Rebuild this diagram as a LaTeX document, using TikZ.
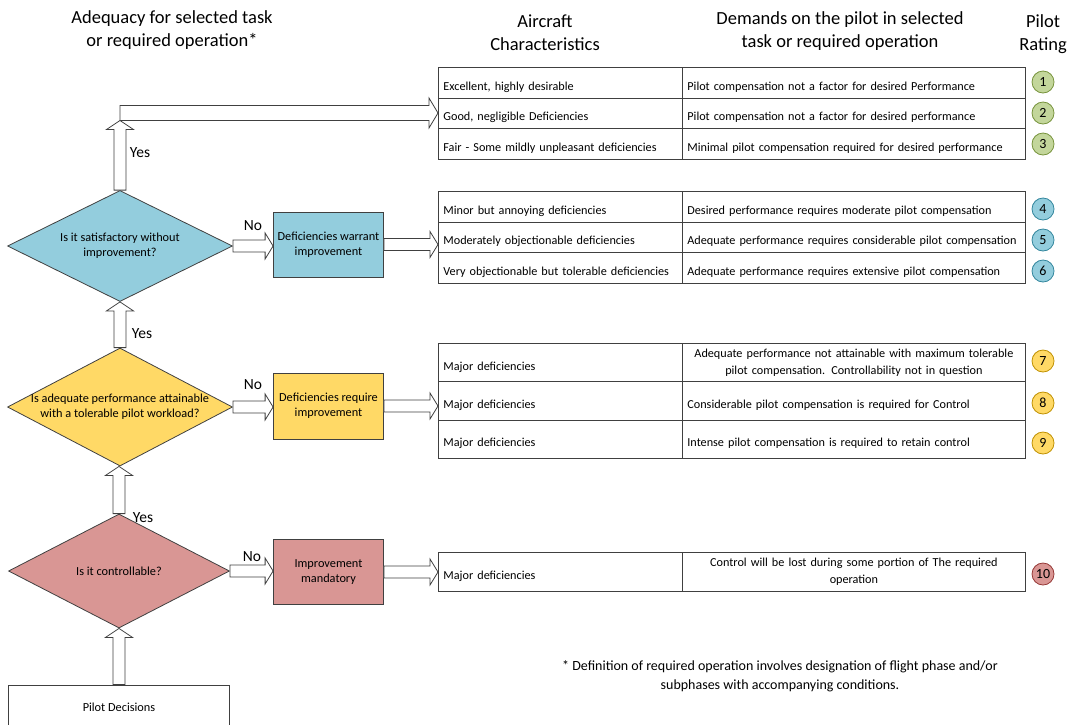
\documentclass[tikz,border=0pt]{standalone}
\usepackage{fontspec}
\setmainfont{Carlito}
\usetikzlibrary{shapes.geometric,calc}
\definecolor{ebdr}{HTML}{404040}
\definecolor{cblue}{HTML}{93CDDD}
\definecolor{cyel}{HTML}{FFD966}
\definecolor{cred}{HTML}{D99694}
\definecolor{cgrn}{HTML}{C3D69B}
\definecolor{dblue}{HTML}{31859C}
\definecolor{dyel}{HTML}{BF9000}
\definecolor{dred}{HTML}{953735}
\definecolor{dgrn}{HTML}{77933C}
\tikzset{
  blkw/.store in=\blkw, blkh/.store in=\blkh, blkl/.store in=\blkl,
  blkw=6pt, blkh=13pt, blkl=8pt,
  blkright/.style={draw=ebdr, fill=white, line width=0.8pt,
    to path={let \p1=(\tikztostart), \p2=(\tikztotarget) in
      (\x1,\y1+\blkw) -- (\x2-\blkl,\y1+\blkw) -- (\x2-\blkl,\y1+\blkh) -- (\x2,\y1)
      -- (\x2-\blkl,\y1-\blkh) -- (\x2-\blkl,\y1-\blkw) -- (\x1,\y1-\blkw) -- cycle}},
  blkup/.style={draw=ebdr, fill=white, line width=0.8pt,
    to path={let \p1=(\tikztostart), \p2=(\tikztotarget) in
      (\x1-\blkw,\y1) -- (\x1-\blkw,\y2-\blkl) -- (\x1-\blkh,\y2-\blkl) -- (\x1,\y2)
      -- (\x1+\blkh,\y2-\blkl) -- (\x1+\blkw,\y2-\blkl) -- (\x1+\blkw,\y1) -- cycle}},
  dec/.style={diamond, draw=ebdr, line width=0.8pt, inner ysep=0pt, inner xsep=-28pt,
    aspect=2, align=center, font=\fontsize{12.3}{15}\selectfont},
  actbox/.style={rectangle, draw=ebdr, line width=0.8pt, minimum width=110,
    inner xsep=1pt, align=center, font=\fontsize{12.3}{15}\selectfont},
  cellfont/.style={font=\fontsize{12.2}{17}\selectfont},
  lcell/.style={rectangle, draw=ebdr, line width=0.8pt, anchor=north west,
    minimum width=244, text width=234, inner xsep=5pt, align=left, cellfont,
    text height=16pt, text depth=1pt},
  rcell/.style={rectangle, draw=ebdr, line width=0.8pt, anchor=north west,
    minimum width=343, text width=333, inner xsep=5pt, align=left, cellfont,
    text height=16pt, text depth=1pt},
  rcellc/.style={rectangle, draw=ebdr, line width=0.8pt, anchor=north west,
    minimum width=343, text width=333, inner xsep=5pt, align=center, cellfont},
  rate/.style={circle, line width=0.8pt, minimum size=22, inner sep=0pt,
    font=\fontsize{14}{14}\selectfont},
  hdr/.style={align=center, font=\fontsize{18.5}{23}\selectfont},
  lbl/.style={font=\fontsize{15.5}{16}\selectfont},
}
\begin{document}
\begin{tikzpicture}[x=1pt,y=-1pt]
\useasboundingbox (0,0) rectangle (1076,724);
% headers
\node[hdr] (h1) at (172,30) {Adequacy for selected task\\or required operation*};
\node[hdr] (h2) at (545,33) {Aircraft\\Characteristics};
\node[hdr] (h3) at (840,31) {Demands on the pilot in selected\\task or required operation};
\node[hdr] (h4) at (1043,34) {Pilot\\Rating};

% table 1
\node[lcell, minimum height=30.5] (a1) at (438,67) {Excellent, highly desirable};
\node[lcell, minimum height=30.5] (a2) at (438,97.5) {Good, negligible Deficiencies};
\node[lcell, minimum height=30.5] (a3) at (438,128) {Fair - Some mildly\ unpleasant deficiencies};
\node[rcell, minimum height=30.5] (b1) at (682,67) {Pilot compensation not a factor for desired Performance};
\node[rcell, minimum height=30.5] (b2) at (682,97.5) {Pilot compensation not a factor for desired performance};
\node[rcell, minimum height=30.5] (b3) at (682,128) {Minimal pilot compensation required for desired performance};
% table 2
\node[lcell, minimum height=30.7] (a4) at (438,191) {Minor but annoying deficiencies};
\node[lcell, minimum height=30.7] (a5) at (438,221.7) {Moderately objectionable deficiencies};
\node[lcell, minimum height=30.7] (a6) at (438,252.4) {Very objectionable but tolerable deficiencies};
\node[rcell, minimum height=30.7] (b4) at (682,191) {Desired performance requires moderate pilot compensation};
\node[rcell, minimum height=30.7] (b5) at (682,221.7) {Adequate performance requires considerable pilot compensation};
\node[rcell, minimum height=30.7] (b6) at (682,252.4) {Adequate performance requires extensive pilot compensation};
% table 3
\node[lcell, minimum height=38.3] (a7) at (438,343) {Major deficiencies};
\node[lcell, minimum height=38.3] (a8) at (438,381.3) {Major deficiencies};
\node[lcell, minimum height=38.3] (a9) at (438,419.6) {Major deficiencies};
\node[rcellc, minimum height=38.3] (b7) at (682,343) {Adequate performance not attainable with maximum tolerable\\pilot compensation. Controllability not in question};
\node[rcell, minimum height=38.3] (b8) at (682,381.3) {Considerable pilot compensation is required for Control};
\node[rcell, minimum height=38.3] (b9) at (682,419.6) {Intense pilot compensation is required to retain control};
% table 4
\node[lcell, minimum height=39] (a10) at (438,552) {Major deficiencies};
\node[rcellc, minimum height=39] (b10) at (682,552) {Control will be lost during some portion of The required\\operation};

% ratings
\node[rate, draw=dgrn, fill=cgrn] (r1) at (1043,82) {1};
\node[rate, draw=dgrn, fill=cgrn] (r2) at (1043,113) {2};
\node[rate, draw=dgrn, fill=cgrn] (r3) at (1043,144) {3};
\node[rate, draw=dblue, fill=cblue] (r4) at (1043,209) {4};
\node[rate, draw=dblue, fill=cblue] (r5) at (1043,240) {5};
\node[rate, draw=dblue, fill=cblue] (r6) at (1043,271) {6};
\node[rate, draw=dyel, fill=cyel] (r7) at (1043,361) {7};
\node[rate, draw=dyel, fill=cyel] (r8) at (1043,403) {8};
\node[rate, draw=dyel, fill=cyel] (r9) at (1043,443) {9};
\node[rate, draw=dred, fill=cred] (r10) at (1043,574) {10};

% decisions
\node[dec, fill=cblue, minimum width=225, minimum height=111] (d1) at (120,246) {Is it satisfactory without\\improvement?};
\node[dec, fill=cyel, minimum width=225, minimum height=118] (d2) at (120,407) {Is adequate performance attainable\\with a tolerable pilot workload?};
\node[dec, fill=cred, minimum width=221, minimum height=114] (d3) at (119,571) {Is it controllable?};

% action boxes
\node[actbox, fill=cblue, minimum height=65] (x1) at (328.5,244.5) {Deficiencies warrant\\improvement};
\node[actbox, fill=cyel, minimum height=66] (x2) at (328.5,406) {Deficiencies require\\improvement};
\node[actbox, fill=cred, minimum height=65] (x3) at (328.5,572) {Improvement\\mandatory};

% pilot decisions
\node[rectangle, draw=ebdr, line width=0.8pt, minimum width=221, minimum height=44,
  font=\fontsize{12.3}{14}\selectfont] (pd) at (119,707) {Pilot Decisions};

% block arrows
\coordinate (t0) at (120,113);
\coordinate (t0b) at (120,120.5);
\coordinate (t1) at (438,113);
\draw[blkright, blkw=7.5pt, blkh=15pt, blkl=9pt] (t0) to (t1);
\draw[blkup, blkh=13.5pt, blkl=9pt] (d1.north) to (t0b);
\draw[blkup, blkh=13.5pt, blkl=9pt] (d2.north) to (d1.south);
\draw[blkup, blkh=13.5pt, blkl=9pt] (d3.north) to (d2.south);
\draw[blkup, blkh=13.5pt, blkl=9pt] (pd.north -| d3.south) to (d3.south);

\draw[blkright] (d1.east) to (x1.west |- d1.east);
\draw[blkright] (d2.east) to (x2.west |- d2.east);
\draw[blkright] (d3.east) to (x3.west |- d3.east);
\draw[blkright] (x1.east) to (a5.west |- x1.east);
\draw[blkright] (x2.east) to (a8.west |- x2.east);
\draw[blkright] (x3.east) to (a10.west |- x3.east);

% labels
\node[lbl] (y1) at (140,153) {Yes};
\node[lbl] (y2) at (142,334) {Yes};
\node[lbl] (y3) at (143,518) {Yes};
\node[lbl] (n1) at (253,226) {No};
\node[lbl] (n2) at (253,385) {No};
\node[lbl] (n3) at (252,557) {No};

% footnote
\node[align=center, font=\fontsize{14}{19}\selectfont] (fn) at (780,676)
  {* Definition of required operation involves designation of flight phase and/or\\subphases with accompanying conditions.};
\end{tikzpicture}
\end{document}
